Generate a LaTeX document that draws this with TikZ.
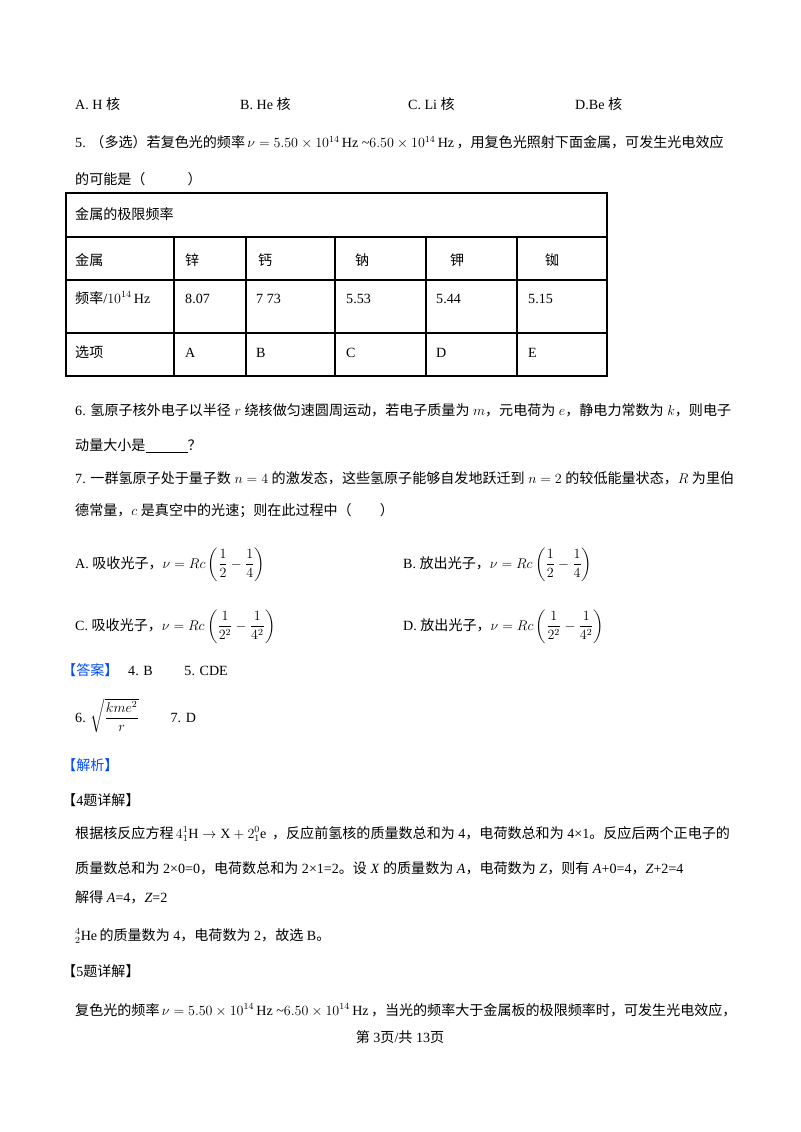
\documentclass[tikz,border=0pt]{standalone}
\usepackage{amsmath}
\usepackage{fontspec}
\setmainfont{Liberation Serif}
\newfontfamily\cjk{Noto Sans CJK SC}
\newcommand{\zh}[1]{{\cjk #1}}
\newcommand{\freqrange}{\,$\nu=5.50\times10^{14}\,\mathrm{Hz}$ \textasciitilde$6.50\times10^{14}\,\mathrm{Hz}$\,}
\usetikzlibrary{positioning}
\begin{document}
\begin{tikzpicture}[x=0.03cm,y=-0.03cm]
  \tikzset{txt/.style={anchor=base west, inner sep=0pt, font=\fontsize{12}{14}\selectfont}}
  \tikzset{cell/.style={anchor=base west, inner sep=0pt, font=\fontsize{12}{14}\selectfont}}
  \tikzset{tag/.style={txt, text=blue!70!cyan}}
  \tikzset{grid/.style={line width=0.9pt}}
  \useasboundingbox (0,0) rectangle (800,1132);

  % question 4 options
  \node (q4a) [txt] at (75,110) {A. H \zh{核}};
  \node (q4b) [txt] at (240,110) {B. He \zh{核}};
  \node (q4c) [txt] at (408,110) {C. Li \zh{核}};
  \node (q4d) [txt] at (575,110) {D.Be \zh{核}};

  % question 5
  \node (q5) [txt] at (75,148) {5. \zh{（多选）若复色光的频率}\freqrange\zh{，用复色光照射下面金属，可发生光电效应}};
  \node (q5b) [txt] at (75,185) {\zh{的可能是（\qquad\quad ）}};

  % table
  \draw[grid] (66,193) rectangle (607,376);
  \foreach \y in {237,280,333} \draw[grid] (66,\y) -- (607,\y);
  \foreach \x in {174,246,335,426,517} \draw[grid] (\x,237) -- (\x,376);
  \node (thead) [cell] at (75,220) {\zh{金属的极限频率}};
  \node (tmetal) [cell] at (75,265) {\zh{金属}};
  \node (tfreq) [cell] at (75,303) {\zh{频率}/$10^{14}\,\mathrm{Hz}$};
  \node (topt) [cell] at (75,357) {\zh{选项}};
  \foreach \x/\m [count=\i] in {185/锌, 258/钙, 355/钠, 450/钾, 545/铷} {
    \node (m\i) [cell] at (\x,265) {\zh{\m}};
  }
  \foreach \x/\f/\o [count=\i] in {185/8.07/A, 256/7 73/B, 346/5.53/C, 436/5.44/D, 528/5.15/E} {
    \node (f\i) [cell] at (\x,303) {\f};
    \node (o\i) [cell] at (\x,357) {\o};
  }

  % question 6
  \node (q6) [txt] at (75,415) {6. \zh{氢原子核外电子以半径} $r$ \zh{绕核做匀速圆周运动，若电子质量为} $m$\zh{，元电荷为} $e$\zh{，静电力常数为} $k$\zh{，则电子}};
  \node (q6b) [txt] at (75,450) {\zh{动量大小是}\underline{\hspace{3em}}\zh{？}};

  % question 7
  \node (q7) [txt] at (75,483) {7. \zh{一群氢原子处于量子数} $n=4$ \zh{的激发态，这些氢原子能够自发地跃迁到} $n=2$ \zh{的较低能量状态，}$R$ \zh{为里伯}};
  \node (q7b) [txt] at (75,515) {\zh{德常量，}$c$ \zh{是真空中的光速；则在此过程中（\qquad ）}};
  \node (q7a) [txt] at (75,568) {A. \zh{吸收光子，}$\nu=Rc\left(\dfrac12-\dfrac14\right)$};
  \node (q7bb) [txt] at (403,568) {B. \zh{放出光子，}$\nu=Rc\left(\dfrac12-\dfrac14\right)$};
  \node (q7c) [txt] at (75,630) {C. \zh{吸收光子，}$\nu=Rc\left(\dfrac1{2^2}-\dfrac1{4^2}\right)$};
  \node (q7d) [txt] at (403,630) {D. \zh{放出光子，}$\nu=Rc\left(\dfrac1{2^2}-\dfrac1{4^2}\right)$};

  % answers
  \node (ans) [tag] at (62,675) {\zh{【答案】}};
  \node (ans45) [txt] at (128,675) {4. B \qquad 5. CDE};
  \node (ans6) [txt] at (75,722) {6. $\sqrt{\dfrac{kme^2}{r}}$ \qquad 7. D};
  \node (expl) [tag] at (62,770) {\zh{【解析】}};

  % detail 4
  \node (d4) [txt] at (62,805) {\zh{【}4\zh{题详解】}};
  \node (d4a) [txt] at (75,838) {\zh{根据核反应方程}\,$4{}^1_1\mathrm{H}\rightarrow \mathrm{X}+2{}^{0}_{1}\mathrm{e}$\, \zh{，反应前氢核的质量数总和为} 4\zh{，电荷数总和为} 4×1\zh{。反应后两个正电子的}};
  \node (d4b) [txt] at (75,873) {\zh{质量数总和为} 2×0=0\zh{，电荷数总和为} 2×1=2\zh{。设} \textit{X} \zh{的质量数为} \textit{A}\zh{，电荷数为} \textit{Z}\zh{，则有} \textit{A}+0=4\zh{，}\textit{Z}+2=4};
  \node (d4c) [txt] at (75,902) {\zh{解得} \textit{A}=4\zh{，}\textit{Z}=2};
  \node (d4d) [txt] at (75,940) {${}^4_2\mathrm{He}$\,\zh{的质量数为} 4\zh{，电荷数为} 2\zh{，故选} B\zh{。}};

  % detail 5
  \node (d5) [txt] at (62,976) {\zh{【}5\zh{题详解】}};
  \node (d5a) [txt] at (75,1015) {\zh{复色光的频率}\freqrange\zh{，当光的频率大于金属板的极限频率时，可发生光电效应，}};
  \node (page) [txt, anchor=base] at (400,1042) {\zh{第} 3\zh{页}/\zh{共} 13\zh{页}};
\end{tikzpicture}
\end{document}
